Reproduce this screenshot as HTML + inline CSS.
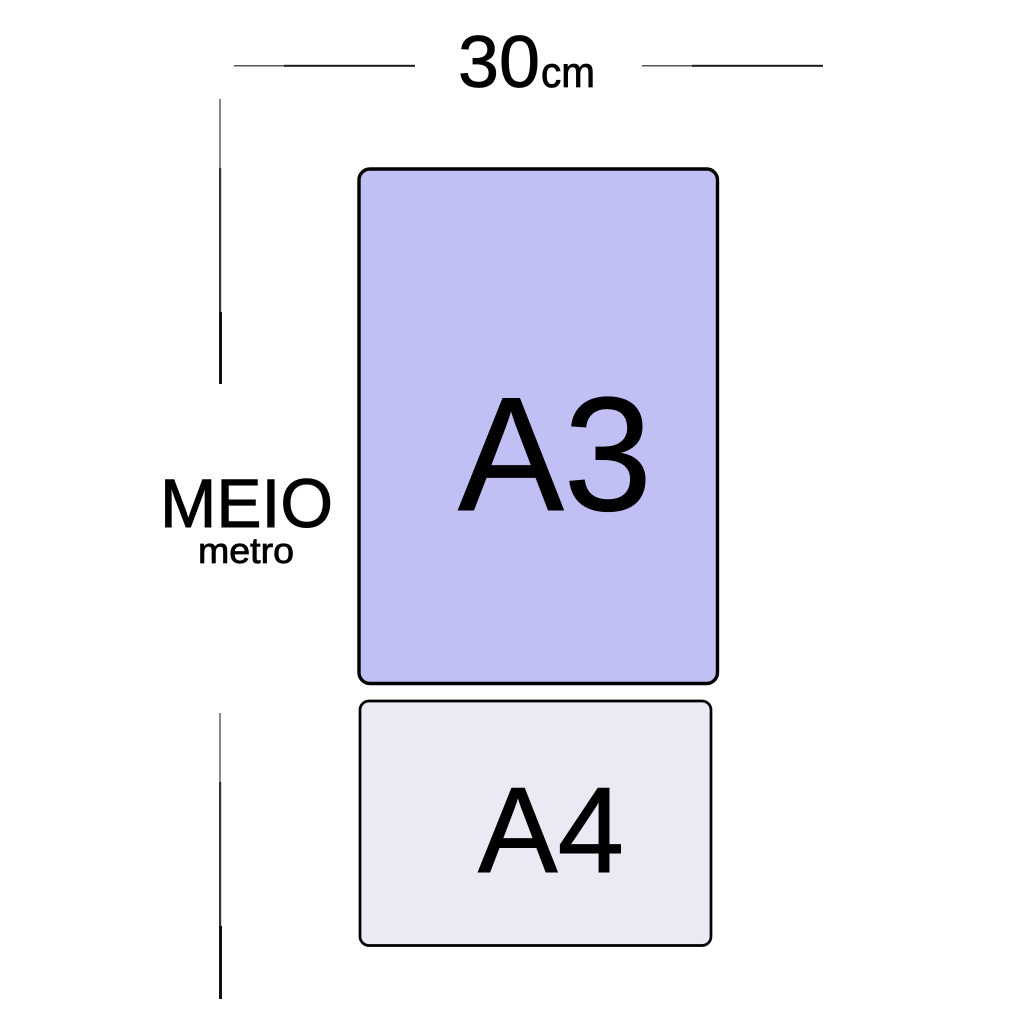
<!DOCTYPE html>
<html><head><meta charset="utf-8"><style>
html,body{margin:0;padding:0;background:#fff;width:1024px;height:1024px;overflow:hidden}
svg{display:block}
text{font-family:"Liberation Sans",Arial,sans-serif;fill:#000;stroke:#000}
</style></head><body>
<svg width="1024" height="1024" viewBox="0 0 1024 1024" xmlns="http://www.w3.org/2000/svg">
<rect x="0" y="0" width="1024" height="1024" fill="#fff"/>
<rect x="359" y="169" width="358.500" height="514.500" rx="11" fill="#c0c0f4" stroke="#000" stroke-width="3.400"/>
<rect x="360" y="701" width="351" height="244.500" rx="9" fill="#eaeaf5" stroke="#000" stroke-width="2.700"/>
<g>
<rect x="234" y="65" width="50" height="1.500" fill="#555"/>
<rect x="284" y="64.800" width="131" height="2" fill="#1a1a1a"/>
<rect x="642" y="65" width="50" height="1.500" fill="#555"/>
<rect x="692" y="64.800" width="131" height="2" fill="#1a1a1a"/>
<rect x="219" y="99" width="2" height="69" fill="#888"/>
<rect x="219" y="168" width="2.200" height="144" fill="#333"/>
<rect x="219" y="312" width="3" height="72" fill="#111"/>
<rect x="219" y="713" width="2" height="69" fill="#888"/>
<rect x="219" y="782" width="2.200" height="144" fill="#333"/>
<rect x="219" y="926" width="3" height="73" fill="#111"/>
</g>
<text x="458" y="87" font-size="73" textLength="82" lengthAdjust="spacingAndGlyphs" stroke-width="0.800">30</text>
<text x="541" y="87" font-size="43" textLength="54" lengthAdjust="spacingAndGlyphs" stroke-width="0.800">cm</text>
<text x="160" y="527" font-size="69" textLength="173" lengthAdjust="spacingAndGlyphs" stroke-width="1">MEIO</text>
<text x="198" y="563" font-size="36" textLength="96" lengthAdjust="spacingAndGlyphs" stroke-width="0.800">metro</text>
<text x="458" y="510" font-size="162" textLength="194" lengthAdjust="spacingAndGlyphs" stroke-width="1">A3</text>
<text x="478" y="872" font-size="122" textLength="146" lengthAdjust="spacingAndGlyphs" stroke-width="1">A4</text>
</svg>
</body></html>
